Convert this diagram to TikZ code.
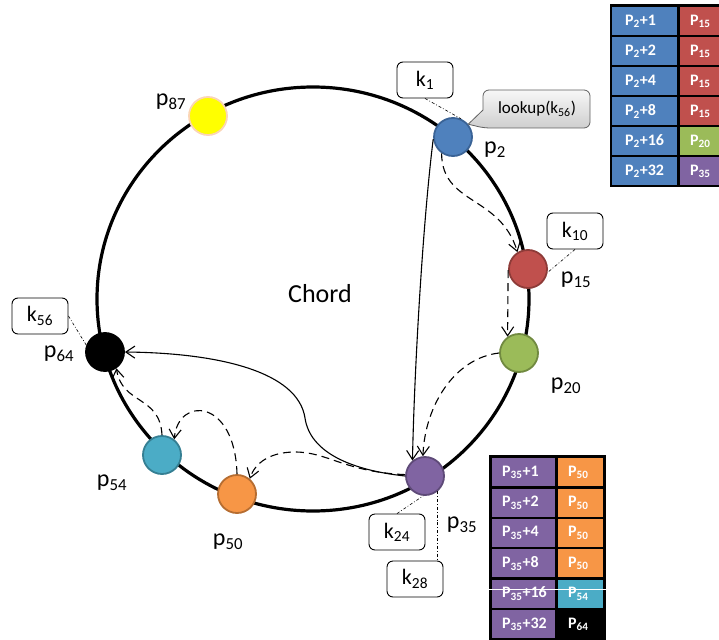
\documentclass[tikz,border=0pt]{standalone}
\usepackage{fontspec}
\setmainfont{Carlito}
\usetikzlibrary{arrows.meta}

\definecolor{pblue}{HTML}{4F81BD}
\definecolor{pblueD}{HTML}{3A6396}
\definecolor{pred}{HTML}{C0504D}
\definecolor{predD}{HTML}{8E3B38}
\definecolor{pgreen}{HTML}{9BBB59}
\definecolor{pgreenD}{HTML}{718A40}
\definecolor{ppurple}{HTML}{8064A2}
\definecolor{ppurpleD}{HTML}{5E4A78}
\definecolor{porange}{HTML}{F79646}
\definecolor{porangeD}{HTML}{B66D31}
\definecolor{pteal}{HTML}{4BACC6}
\definecolor{ptealD}{HTML}{357F93}
\definecolor{pyellow}{HTML}{FFFF00}
\definecolor{ppeach}{HTML}{FBD5B5}

\tikzset{
  peer/.style={circle, minimum size=38pt, inner sep=0pt, line width=1.8pt},
  plabel/.style={font=\fontsize{24}{28}\selectfont, inner sep=0pt},
  kbox/.style={draw, rounded corners=6pt, minimum width=56pt, minimum height=36pt,
    fill=white, line width=0.9pt, inner sep=0pt, font=\fontsize{22}{26}\selectfont},
  leader/.style={line width=0.6pt, dash pattern=on 3pt off 2pt on 0.8pt off 2pt},
  hop/.style={line width=1.1pt, -{Straight Barb[length=9pt,width=12pt]}},
  dhop/.style={hop, dash pattern=on 8pt off 5pt},
  ring/.style={line width=3.2pt},
  cellL/.style={anchor=north west, minimum height=28pt, inner ysep=0pt,
    text=white, align=left, font=\bfseries\fontsize{16}{19}\selectfont},
  cellR/.style={cellL},
}

\begin{document}
\begin{tikzpicture}[x=1pt,y=-1pt]
\useasboundingbox (0,0) rectangle (719,639);

% the ring
\draw[ring] (313,299) ellipse [x radius=216, y radius=212];

\node[font=\fontsize{26}{30}\selectfont] (chord) at (320,294) {Chord};

% peers
\node[peer, fill=pyellow, draw=ppeach] (n87) at (208,116) {};
\node[peer, fill=pblue, draw=pblueD] (n2) at (453,137) {};
\node[peer, fill=pred, draw=predD] (n15) at (528,269) {};
\node[peer, fill=pgreen, draw=pgreenD] (n20) at (519,353) {};
\node[peer, fill=ppurple, draw=ppurpleD] (n35) at (425,476) {};
\node[peer, fill=porange, draw=porangeD] (n50) at (237,494) {};
\node[peer, fill=pteal, draw=ptealD] (n54) at (162,455) {};
\node[peer, fill=black, draw=black] (n64) at (105,352) {};

% peer labels
\node[plabel] (l87) at (171,102) {p\textsubscript{87}};
\node[plabel] (l2) at (495,150) {p\textsubscript{2}};
\node[plabel] (l15) at (576,280) {p\textsubscript{15}};
\node[plabel] (l20) at (566,386) {p\textsubscript{20}};
\node[plabel] (l35) at (462,525) {p\textsubscript{35}};
\node[plabel] (l50) at (228,542) {p\textsubscript{50}};
\node[plabel] (l54) at (112,483) {p\textsubscript{54}};
\node[plabel] (l64) at (59,354) {p\textsubscript{64}};

% finger hops of the lookup
\draw[hop] (n2.186) .. controls (422,230) and (414,380) .. (n35.129);
\draw[hop] (n35.180) .. controls (350,470) and (310,452) .. (305,418)
                     .. controls (298,372) and (220,353) .. (n64.east);
\draw[dhop] (n2.235) .. controls (442,205) and (500,195) .. (n15.122);
\draw[dhop] (n15.183) -- (n20.125);
\draw[dhop] (n20.180) .. controls (455,358) and (425,405) .. (n35.96);
\draw[dhop] (n35.176) .. controls (345,472) and (328,452) .. (295,452)
                      .. controls (270,452) and (255,463) .. (n50.50);
\draw[dhop] (n50.90) .. controls (235,398) and (178,396) .. (n54.52);
\draw[dhop] (n54.90) .. controls (160,395) and (122,405) .. (n64.305);

% keys
\node[kbox] (k1) at (425,80) {k\textsubscript{1}};
\node[kbox] (k10) at (575,231) {k\textsubscript{10}};
\node[kbox] (k56) at (40,316) {k\textsubscript{56}};
\node[kbox] (k24) at (397,532) {k\textsubscript{24}};
\node[kbox] (k28) at (415,579) {k\textsubscript{28}};

\draw[leader] (k1.south) -- (n2.66);
\draw[leader] (k10.south) -- (n15.350);
\draw[leader] (k56.east) -- (n64.160);
\draw[leader] (k24.north) -- (n35.265);
\draw[leader] (n35.310) -- (n35.310 |- k28.north);

% lookup call-out
\draw[line width=0.8pt, draw=gray!75!black, top color=gray!6, bottom color=gray!38]
  (n2.40) -- (483,110) [rounded corners=6pt] -- (483,90) -- (590,90)
  -- (590,128) -- (484,128) [sharp corners] -- cycle;
\node[font=\fontsize{17}{20}\selectfont] (lookup) at (537,109) {lookup(k\textsubscript{56})};

% finger table of p2
\fill[black] (610,4) rectangle (725,187);
\foreach \i/\d/\c/\t in {0/1/pred/15, 1/2/pred/15, 2/4/pred/15, 3/8/pred/15,
                          4/16/pgreen/20, 5/32/ppurple/35} {
  \node[cellL, fill=pblue, minimum width=65pt, text width=39pt, inner xsep=13pt]
    (fa\i) at (612, 7+30*\i) {P\textsubscript{2}+\d};
  \node[cellR, fill=\c, minimum width=45pt, text width=25pt, inner xsep=10pt]
    (fb\i) at (680, 7+30*\i) {P\textsubscript{\t}};
}

% finger table of p35
\fill[black] (489,455) rectangle (606,640);
\foreach \i/\d/\c/\t in {0/1/porange/50, 1/2/porange/50, 2/4/porange/50,
                          3/8/porange/50, 4/16/pteal/54, 5/32/black/64} {
  \node[cellL, fill=ppurple, minimum width=63pt, text width=43pt, inner xsep=10pt]
    (ga\i) at (492, 458+30.4*\i) {P\textsubscript{35}+\d};
  \node[cellR, fill=\c, minimum width=45pt, text width=25pt, inner xsep=10pt]
    (gb\i) at (558, 458+30.4*\i) {P\textsubscript{\t}};
}
\draw[white, line width=0.8pt] (489,589) -- (606,589);

\end{tikzpicture}
\end{document}
